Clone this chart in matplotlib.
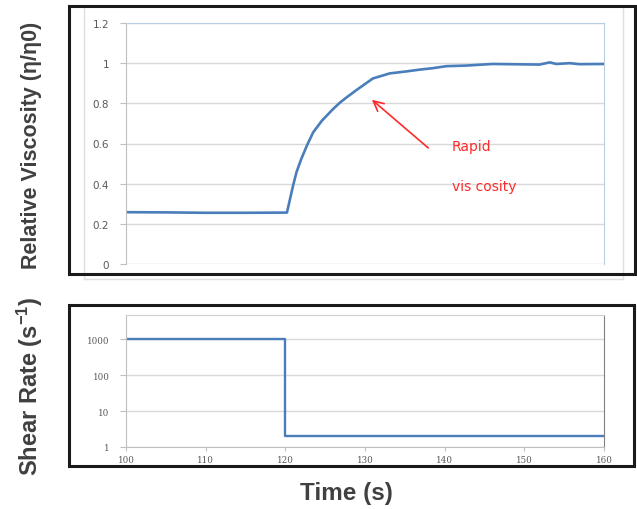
import numpy as np
import matplotlib
matplotlib.use('Agg')
import matplotlib.pyplot as plt
from matplotlib.patches import Rectangle
from matplotlib.lines import Line2D

plt.rcParams['mathtext.fontset'] = 'custom'
plt.rcParams['mathtext.bf'] = 'Liberation Sans:bold'
plt.rcParams['mathtext.rm'] = 'Liberation Sans:bold'
plt.rcParams['mathtext.default'] = 'bf'

# relative viscosity
time_visc = [100, 105, 110, 115, 120.2, 121.0, 121.4, 122.0, 122.7, 123.5, 124.6,
             126.0, 126.9, 127.7, 129.1, 131.0, 133.1, 135.2, 136.9, 138.5, 140.2,
             142.7, 146.0, 151.9, 153.2, 154.0, 155.7, 156.9, 160]
visc = [0.258, 0.257, 0.255, 0.255, 0.256, 0.395, 0.457, 0.523, 0.589, 0.656, 0.714,
        0.772, 0.805, 0.830, 0.871, 0.924, 0.949, 0.959, 0.968, 0.975, 0.985,
        0.988, 0.996, 0.993, 1.004, 0.996, 1.0, 0.995, 0.996]

# shear rate step (log scale)
time_shear = [100, 120, 120, 160]
shear = [1000, 1000, 2, 2]

visc_ticks = [0, 0.2, 0.4, 0.6, 0.8, 1.0, 1.2]
visc_labels = ['0', '0.2', '0.4', '0.6', '0.8', '1', '1.2']
shear_ticks = [1, 10, 100, 1000]
shear_labels = ['1', '10', '100', '1000']
time_ticks = [100, 110, 120, 130, 140, 150, 160]

W, H = 637, 510
blue = '#4a7ebb'
grid = '#d9d9d9'
lab = '#404040'

fig = plt.figure(figsize=(W / 100, H / 100), dpi=100)


def fr(x0, y0, x1, y1):
    # pixel box (top-left origin) -> figure fraction rect
    return [x0 / W, 1 - y1 / H, (x1 - x0) / W, (y1 - y0) / H]


# faint outer chart border
for xs, ys in [([84, 84], [8, 280]), ([84, 623], [280, 280]), ([623, 623], [8, 280])]:
    fig.add_artist(Line2D([x / W for x in xs], [1 - y / H for y in ys],
                          color='#e0e0e0', lw=1.0, zorder=0))

# black frames
for x0, y0, x1, y1 in [(69, 7, 635, 275), (69, 306, 634, 467)]:
    fig.add_artist(Rectangle((x0 / W, 1 - y1 / H), (x1 - x0) / W, (y1 - y0) / H,
                             fill=False, ec='#1a1a1a', lw=2.2, zorder=5))

# ---- top panel
ax1 = fig.add_axes(fr(126, 24, 604, 265))
ax1.plot(time_visc, visc, color=blue, lw=1.9)
ax1.set_xlim(100, 160)
ax1.set_ylim(0, 1.2)
ax1.set_yticks(visc_ticks)
ax1.set_yticklabels(visc_labels, fontsize=7.5, color='#595959')
ax1.set_xticks([])
ax1.grid(axis='y', color=grid, lw=1.0)
ax1.set_axisbelow(True)
ax1.spines['bottom'].set_visible(False)
ax1.spines['left'].set_color('#bfbfbf')
ax1.spines['top'].set_color('#b9cde5')
ax1.spines['right'].set_color('#b9cde5')
ax1.tick_params(axis='y', length=4, color='#bfbfbf', pad=8)

ax1.annotate('', xy=(130.6, 0.827), xytext=(138.2, 0.569),
             arrowprops=dict(arrowstyle='->', color='#ff2a2a', lw=1.2,
                             mutation_scale=18))
ax1.text(140.9, 0.59, 'Rapid', color='#ff2a2a', fontsize=10, va='center')
ax1.text(140.9, 0.39, 'vis cosity', color='#ff2a2a', fontsize=10, va='center')

fig.text(32 / W, 1 - 145 / H, 'Relative Viscosity (η/η0)', rotation=90,
         ha='center', va='center', fontsize=15.5, fontweight='bold',
         family='Liberation Sans', color=lab)

# ---- bottom panel
ax2 = fig.add_axes(fr(126, 316, 604, 448))
ax2.plot(time_shear, shear, color=blue, lw=1.7)
ax2.set_yscale('log')
ax2.set_xlim(100, 160)
ax2.set_ylim(1, 4800)
ax2.set_yticks(shear_ticks)
ax2.set_yticklabels(shear_labels, fontsize=6.3, color='#595959', family='DejaVu Serif')
ax2.minorticks_off()
ax2.set_xticks(time_ticks)
ax2.set_xticklabels([str(t) for t in time_ticks], fontsize=6.3, color='#595959',
                    family='DejaVu Serif')
ax2.grid(axis='y', color=grid, lw=1.0)
ax2.set_axisbelow(True)
ax2.spines['left'].set_color('#bfbfbf')
ax2.spines['bottom'].set_color('#bfbfbf')
ax2.spines['top'].set_color('#d0d0d0')
ax2.spines['right'].set_color('#808080')
ax2.tick_params(axis='y', length=4, color='#bfbfbf', pad=8)
ax2.tick_params(axis='x', length=3, color='#bfbfbf', pad=3)

fig.text(30 / W, 1 - 386 / H, 'Shear Rate (s$^{-1}$)', rotation=90,
         ha='center', va='center', fontsize=17, fontweight='bold',
         family='Liberation Sans', color=lab)

fig.text(346 / W, 1 - 494 / H, 'Time (s)', ha='center', va='center',
         fontsize=17.5, fontweight='bold', family='Liberation Sans', color=lab)

fig.savefig('out.png', dpi=100)
